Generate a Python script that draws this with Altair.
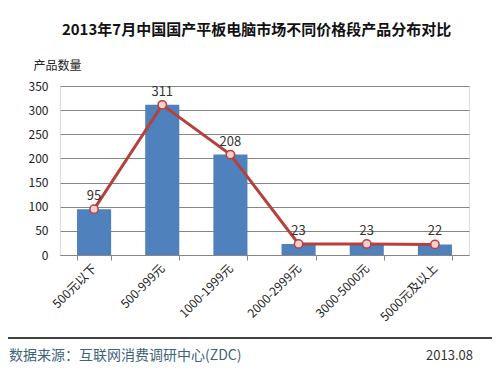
import altair as alt
import pandas as pd

title_text = "2013年7月中国国产平板电脑市场不同价格段产品分布对比"
y_title = "产品数量"
categories = ["500元以下", "500-999元", "1000-1999元", "2000-2999元", "3000-5000元", "5000元及以上"]
counts = [95, 311, 208, 23, 23, 22]
y_ticks = [0, 50, 100, 150, 200, 250, 300, 350]
source_text = "数据来源：互联网消费调研中心(ZDC)"
date_text = "2013.08"

FONT = "Noto Sans CJK SC"
BAR = "#4F81BD"
LINE = "#B5413E"
GRID = "#868686"

df = pd.DataFrame({"cat": categories, "n": counts})

x = alt.X("cat:N", sort=categories, title=None,
          scale=alt.Scale(paddingInner=0.5, paddingOuter=0.25),
          axis=alt.Axis(labelAngle=-45, labelAlign="right", labelBaseline="middle",
                        labelPadding=6, labelFontSize=12, labelColor="#222",
                        labelFont=FONT, tickBand="extent", tickColor=GRID,
                        tickSize=5, domainColor=GRID, grid=False))
y = alt.Y("n:Q", title=y_title,
          scale=alt.Scale(domain=[0, 350]),
          axis=alt.Axis(values=y_ticks, grid=True, gridColor=GRID, gridWidth=1,
                        domain=False, ticks=False, labelPadding=12, labelOverlap=False,
                        labelFontSize=12, labelColor="#222", labelFont=FONT,
                        titleAngle=0, titleX=-27, titleY=-21, titleAlign="left",
                        titleBaseline="middle", titleFont=FONT, titleFontSize=12,
                        titleFontWeight="normal", titleColor="#222"))

base = alt.Chart(df)
bars = base.mark_bar(color=BAR).encode(x=x, y=y)
line = base.mark_line(color=LINE, strokeWidth=3).encode(x=x, y=y)
pts = base.mark_point(filled=True, fill="#F7CFCF", stroke=LINE, strokeWidth=1.5, size=70, opacity=1).encode(
    x=x, y=y)
labels = base.mark_text(dy=-13, fontSize=13, color="#333", font=FONT).encode(
    x=x, y=y, text="n:Q")

foot = pd.DataFrame({"s": [source_text], "d": [date_text]})
rule = alt.Chart(foot).mark_rule(color="#000", strokeWidth=1.5).encode(
    x=alt.value(-52), x2=alt.value(432), y=alt.value(252))
src = alt.Chart(foot).mark_text(align="left", baseline="middle", fontSize=14, color="#3D6577", font=FONT).encode(
    x=alt.value(-51), y=alt.value(270), text="s:N")
dt = alt.Chart(foot).mark_text(align="right", baseline="middle", fontSize=13, color="#333", font=FONT).encode(
    x=alt.value(413), y=alt.value(270), text="d:N")

chart = alt.layer(bars, line, pts, labels, rule, src, dt).properties(
    width=409, height=169,
    autosize=alt.AutoSizeParams(type="none"),
    padding={"left": 52, "top": 78, "right": 23, "bottom": 112},
    title=alt.TitleParams(title_text, font=FONT, fontSize=15, fontWeight="bold",
                          color="#111", anchor="middle", dx=-8, offset=21),
).configure_view(stroke=GRID, strokeWidth=1).configure(background="white")

chart.save("out.html", embed_options={"renderer": "svg", "actions": False})
